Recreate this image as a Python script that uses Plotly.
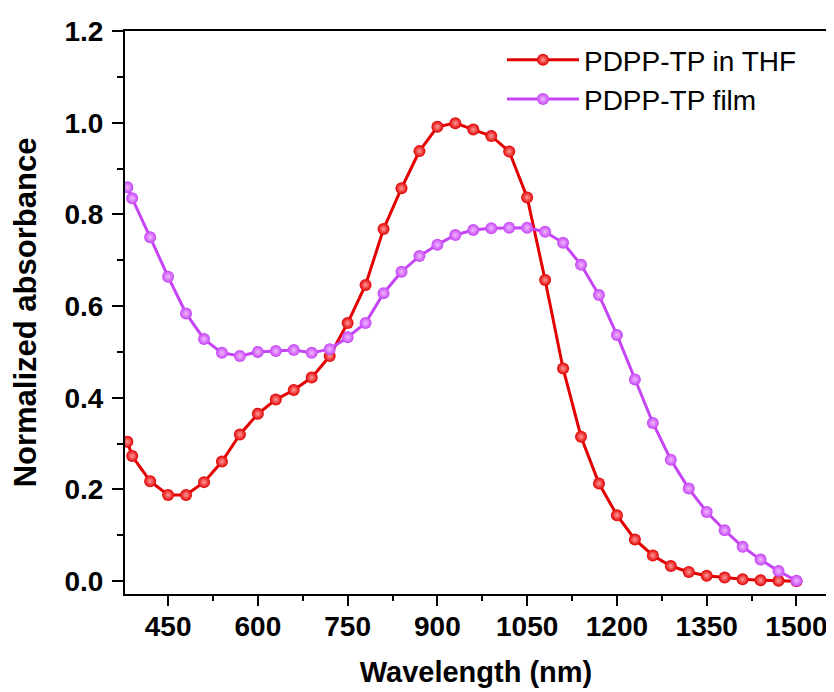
import plotly.graph_objects as go

wavelength_thf = [382, 390, 420, 450, 480, 510, 540, 570, 600, 630, 660, 690, 720, 750, 780,
                  810, 840, 870, 900, 930, 960, 990, 1020, 1050, 1080, 1110, 1140, 1170, 1200,
                  1230, 1260, 1290, 1320, 1350, 1380, 1410, 1440, 1470, 1500]
abs_thf = [0.304, 0.273, 0.218, 0.188, 0.188, 0.216, 0.261, 0.320, 0.365, 0.396, 0.417, 0.444,
           0.491, 0.563, 0.646, 0.768, 0.857, 0.938, 0.991, 0.999, 0.985, 0.971, 0.937, 0.837,
           0.657, 0.464, 0.315, 0.213, 0.144, 0.091, 0.056, 0.033, 0.020, 0.012, 0.008, 0.004,
           0.002, 0.001, 0.0]

wavelength_film = [382, 390, 420, 450, 480, 510, 540, 570, 600, 630, 660, 690, 720, 750, 780,
                   810, 840, 870, 900, 930, 960, 990, 1020, 1050, 1080, 1110, 1140, 1170, 1200,
                   1230, 1260, 1290, 1320, 1350, 1380, 1410, 1440, 1470, 1500]
abs_film = [0.859, 0.835, 0.750, 0.664, 0.584, 0.528, 0.498, 0.491, 0.500, 0.502, 0.504, 0.498,
            0.506, 0.532, 0.563, 0.628, 0.675, 0.709, 0.734, 0.755, 0.766, 0.770, 0.771, 0.771,
            0.762, 0.738, 0.690, 0.624, 0.537, 0.440, 0.345, 0.265, 0.202, 0.151, 0.111, 0.075,
            0.047, 0.022, 0.001]

series_names = ["PDPP-TP in THF", "PDPP-TP film"]
x_ticks = [450, 600, 750, 900, 1050, 1200, 1350, 1500]
y_ticks = [0.0, 0.2, 0.4, 0.6, 0.8, 1.0, 1.2]

RED = "#e20000"
PURPLE = "#c545f5"

fig = go.Figure()
fig.add_trace(go.Scatter(
    x=wavelength_thf, y=abs_thf, name=series_names[0], mode="lines+markers",
    line=dict(color=RED, width=3),
    marker=dict(symbol="circle", size=12, color=RED,
                gradient=dict(type="radial", color="#ff9a9a"),
                line=dict(width=0)),
))
fig.add_trace(go.Scatter(
    x=wavelength_film, y=abs_film, name=series_names[1], mode="lines+markers",
    line=dict(color=PURPLE, width=3),
    marker=dict(symbol="circle", size=12, color=PURPLE,
                gradient=dict(type="radial", color="#f2b8ff"),
                line=dict(width=0)),
))

tick_font = dict(family="Liberation Sans, Arial", size=28, color="black", weight="bold")
xtitle_font = dict(family="Liberation Sans, Arial", size=29, color="black", weight="bold")
ytitle_font = dict(family="Liberation Sans, Arial", size=31, color="black", weight="bold")

# page body has an 8px default margin, so the figure is sized to fit the window
fig.update_layout(
    width=826, height=684,
    margin=dict(l=117, r=7, t=23, b=98, autoexpand=False),
    paper_bgcolor="white", plot_bgcolor="white",
    showlegend=True,
    legend=dict(x=0.537, y=0.993, xanchor="left", yanchor="top",
                font=dict(family="Liberation Sans, Arial", size=28, color="black"),
                bgcolor="rgba(0,0,0,0)", itemwidth=72, tracegroupgap=0),
    xaxis=dict(
        range=[378, 1551], tickmode="array", tickvals=x_ticks,
        ticktext=[str(v) for v in x_ticks], automargin=False,
        ticks="outside", ticklen=10, tickwidth=1.5, tickcolor="black",
        minor=dict(ticks="outside", ticklen=5, tickwidth=1.5, tickcolor="black", dtick=75, tick0=375),
        showline=True, linecolor="black", linewidth=2, mirror=True,
        showgrid=False, zeroline=False, tickfont=tick_font, ticklabelstandoff=-4,
        title=dict(text="Wavelength (nm)", font=xtitle_font, standoff=21),
    ),
    yaxis=dict(
        range=[-0.028, 1.2], tickmode="array", tickvals=y_ticks,
        ticktext=[f"{v:.1f}" for v in y_ticks], automargin=False,
        ticks="outside", ticklen=11, tickwidth=1.5, tickcolor="black",
        minor=dict(ticks="outside", ticklen=6, tickwidth=1.5, tickcolor="black", dtick=0.1, tick0=0),
        showline=True, linecolor="black", linewidth=2, mirror=True,
        showgrid=False, zeroline=False, tickfont=tick_font, ticklabelstandoff=3,
        title=dict(text="Normalized absorbance", font=ytitle_font, standoff=25),
    ),
)

fig.write_html("out.html")
